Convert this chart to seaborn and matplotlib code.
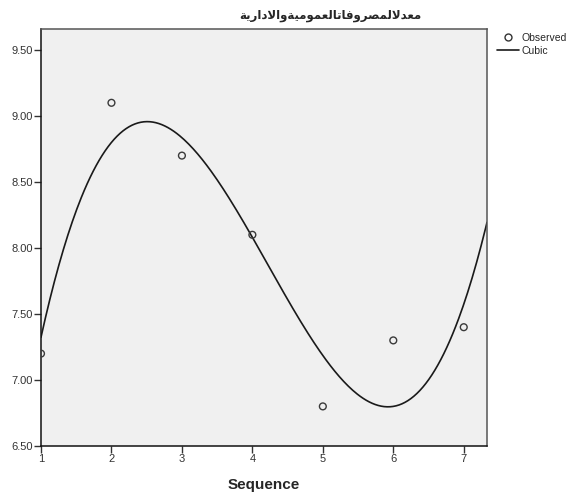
import numpy as np
import pandas as pd
import matplotlib
matplotlib.use("Agg")
import matplotlib.pyplot as plt
from matplotlib.lines import Line2D
import seaborn as sns

# Observed series (sequence vs value)
sequence = [1, 2, 3, 4, 5, 6, 7]
observed = [7.2, 9.1, 8.7, 8.1, 6.8, 7.3, 7.4]

y_ticks = [6.50, 7.00, 7.50, 8.00, 8.50, 9.00, 9.50]
x_ticks = [1, 2, 3, 4, 5, 6, 7]

# Title "معدلالمصروفاتالعموميةوالادارية" in shaped presentation forms, visual order
title_forms = [
    "\uFEE3", "\uFECC", "\uFEAA", "\uFEFB",
    "\uFEDF", "\uFEE4", "\uFEBC", "\uFEAE",
    "\uFEED", "\uFED3", "\uFE8E", "\uFE97", "\uFE8E",
    "\uFEDF", "\uFECC", "\uFEE4", "\uFEEE",
    "\uFEE3", "\uFEF4", "\uFE94",
    "\uFEED", "\uFE8D", "\uFEFB", "\uFEA9", "\uFE8D", "\uFEAD",
    "\uFEF3", "\uFE94",
]
title_text = "".join(reversed(title_forms))

sns.set_theme(style="white")
plt.rcParams["font.family"] = ["Liberation Sans", "DejaVu Sans"]

df = pd.DataFrame({"Sequence": sequence, "Value": observed})

# Cubic least-squares fit of the observed values
coef = np.polyfit(sequence, observed, 3)
x_max = 7.33
xs = np.linspace(1, x_max, 300)
fit = pd.DataFrame({"Sequence": xs, "Value": np.polyval(coef, xs)})

fig = plt.figure(figsize=(5.68, 4.94), dpi=100)
ax = fig.add_axes([41 / 568, 48 / 494, 446 / 568, 417 / 494])
ax.set_facecolor("#F0F0F0")

sns.lineplot(data=fit, x="Sequence", y="Value", ax=ax, color="#1a1a1a",
             linewidth=1.2, legend=False)
sns.scatterplot(data=df, x="Sequence", y="Value", ax=ax, marker="o",
                s=24, facecolor="none", edgecolor="#3a3a3a", linewidth=1.0,
                legend=False, zorder=3)

ax.set_xlim(1, x_max)
ax.set_ylim(6.5, 6.5 + 417 / 132)
ax.set_xticks(x_ticks)
ax.set_xticklabels([str(v) for v in x_ticks])
ax.set_yticks(y_ticks)
ax.set_yticklabels([f"{v:.2f}" for v in y_ticks])
ax.tick_params(axis="both", which="major", direction="out", length=5,
               width=1, color="#333333", labelsize=8, labelcolor="#333333",
               pad=1, bottom=True, left=True)

for side in ["left", "bottom"]:
    ax.spines[side].set_color("#111111")
    ax.spines[side].set_linewidth(1.1)
for side in ["top", "right"]:
    ax.spines[side].set_color("#555555")
    ax.spines[side].set_linewidth(1.1)

ax.set_xlabel("Sequence", fontsize=11, fontweight="bold", labelpad=10)
ax.set_ylabel("")

fig.text(330 / 568, 1 - 15 / 494, title_text, ha="center", va="center",
         fontsize=8.5, fontweight="bold", family=["DejaVu Sans"])

handles = [
    Line2D([], [], marker="o", linestyle="none", markerfacecolor="none",
           markeredgecolor="#333333", markersize=5, markeredgewidth=1.0),
    Line2D([], [], color="#1a1a1a", linewidth=1.2),
]
fig.legend(handles, ["Observed", "Cubic"], loc="upper left",
           bbox_to_anchor=(497 / 568, 1 - 33 / 494), frameon=False,
           fontsize=7.5, handlelength=2.1, handletextpad=0.3,
           labelspacing=0.25, borderaxespad=0, borderpad=0)

fig.savefig("out.png", dpi=100)
